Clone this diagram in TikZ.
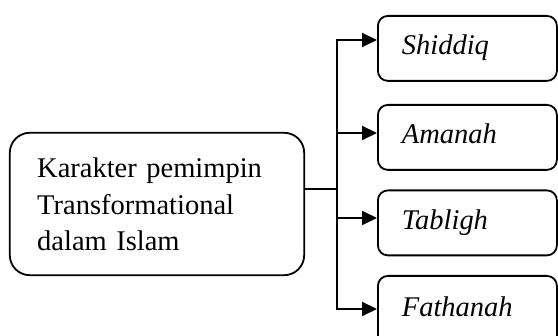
\documentclass[tikz,border=0pt]{standalone}
\usepackage{fontspec}
\setmainfont{Liberation Serif}
\usetikzlibrary{arrows.meta}
\tikzset{
  frameline/.style={line width=1.8pt},
  leafbox/.style={draw, line width=1.8pt, rounded corners=10pt, align=left,
    inner xsep=24pt, inner ysep=0pt, text width=131pt, minimum height=65pt,
    text height=19pt, text depth=6pt, anchor=north west,
    font=\fontsize{28.5}{34}\selectfont\itshape},
  conn/.style={line width=2pt},
  arr/.style={line width=2pt, -{Triangle[length=15pt,width=14pt]}}
}
\begin{document}
\begin{tikzpicture}[x=1pt,y=-1pt]
\clip (0,0) rectangle (558,336);
\node[draw=none, minimum width=294pt, minimum height=142pt, inner sep=0pt] (mainframe) at (157,204) {};
\draw[frameline, rounded corners=20pt] (mainframe.north west) rectangle (mainframe.south east);
\node[align=left, text width=267pt, inner sep=0pt, anchor=north west, font=\fontsize{28.5}{36.5}\selectfont] (maintext) at (37,158) {Karakter pemimpin\\Transformational\\dalam Islam};
\node[leafbox] (s) at (377,15) {Shiddiq};
\node[leafbox] (a) at (377,104) {Amanah};
\node[leafbox] (t) at (377,189.5) {Tabligh};
\node[leafbox, minimum height=75pt, text height=13pt] (f) at (377,275) {Fathanah};
\coordinate (j) at (337,189);
\coordinate (top) at (337,40);
\coordinate (j1) at (337,133);
\coordinate (j2) at (337,218);
\coordinate (bot) at (337,309);
\draw[conn] (mainframe.east |- j) -- (j);
\draw[conn] (top) -- (bot);
\draw[arr] ([xshift=-1pt]top) -- (top -| s.west);
\draw[arr] (j1) -- (j1 -| a.west);
\draw[arr] (j2) -- (j2 -| t.west);
\draw[arr] ([xshift=-1pt]bot) -- (bot -| f.west);
\end{tikzpicture}
\end{document}
